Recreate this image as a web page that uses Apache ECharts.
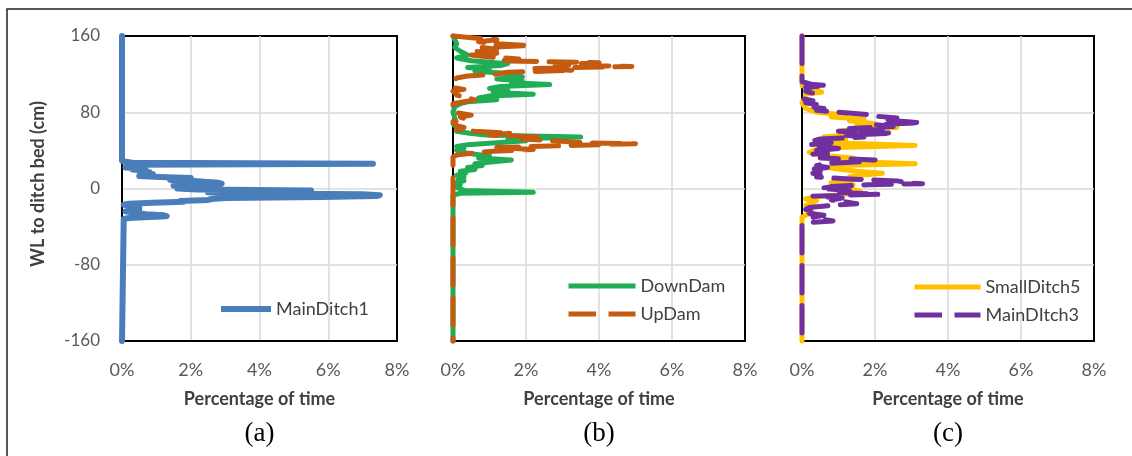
<!DOCTYPE html>
<html>
<head>
<meta charset="utf-8">
<script src="https://cdn.jsdelivr.net/npm/echarts@6/dist/echarts.min.js"></script>
<style>
  html, body { margin: 0; padding: 0; background: #fff; }
  #chart { width: 1132px; height: 456px; }
</style>
</head>
<body>
<div id="chart"></div>
<script>
// Water level relative to ditch bed (cm) vs. share of time at that level (%)
const wlTicks = [-160, -80, 0, 80, 160];
const pctTicks = [0, 2, 4, 6, 8];
const panelLabels = ['(a)', '(b)', '(c)'];

// (a) MainDitch1
const mainDitch1Level = [160, 29, 28, 27, 26, 25, 24, 23, 22, 21, 20, 19, 18, 17, 16, 15, 14, 13, 12, 11, 10, 9, 8, 7, 6, 5, 4, 3, 2, 1, 0, -1, -2, -3, -4, -5, -6, -7, -8, -9, -10, -11, -12, -13, -14, -15, -16, -17, -18, -19, -20, -21, -22, -23, -24, -25, -26, -27, -28, -29, -30, -31, -32, -33, -160];
const mainDitch1Pct   = [0, 0, 0.1, 0.3, 7.3, 0.4, 0.2, 0.3, 0.1, 0.6, 0.3, 0.7, 0.5, 0.8, 0.6, 0.9, 0.7, 0.5, 1.1, 2.0, 1.9, 1.4, 2.1, 2.4, 2.8, 2.9, 1.8, 1.5, 1.9, 1.7, 1.6, 2.2, 5.5, 5.2, 2.5, 3.2, 7.0, 7.5, 7.4, 5.8, 3.0, 2.6, 2.5, 1.7, 1.8, 0.9, 0.2, 0.05, 0.1, 0.4, 0.5, 0.2, 0.5, 0.4, 0.1, 0.3, 0.5, 0.7, 1.2, 1.3, 0.8, 0.2, 0.05, 0, 0];

// (b) DownDam
const downDamLevel = [160, 156, 152, 148, 144, 140, 137, 134, 131, 129, 127, 125, 123, 121, 119, 117, 115, 113, 111, 109, 107, 105, 103, 101, 99, 97, 95, 93, 91, 89, 86, 80, 74, 68, 64, 62, 60, 58, 56, 54, 52, 50, 48, 46, 44, 42, 40, 38, 36, 34, 32, 30, 28, 26, 24, 22, 20, 18, 16, 14, 12, 10, 8, 6, 4, 2, 0, -2, -4, -5, -7, -160];
const downDamPct   = [0, 0.05, 0.1, 0.05, 0.2, 0.4, 0.1, 0.5, 1.5, 1.3, 0.4, 1.0, 0.6, 1.4, 1.7, 1.9, 1.2, 1.9, 1.6, 2.65, 1.3, 1.0, 1.5, 1.1, 2.2, 1.0, 0.7, 1.2, 0.4, 0.2, 0.05, 0, 0.05, 0, 0.1, 0.25, 0.1, 0.45, 0.9, 3.5, 1.5, 2.0, 1.2, 0.4, 0.1, 0.3, 0.1, 0.2, 0.6, 1.0, 0.7, 1.6, 1.1, 0.6, 0.8, 0.4, 0.6, 0.2, 0.35, 0.1, 0.3, 0.15, 0.3, 0.1, 0.2, 0.05, 0.1, 0.3, 2.2, 0.2, 0, 0];

// (b) UpDam
const upDamLevel = [160, 158, 156, 154, 152, 150, 148, 146, 144, 142, 140, 138, 136, 134, 132, 130, 128, 126, 124, 122, 120, 118, 116, 112, 106, 104, 102, 98, 93, 91, 89, 80, 77, 75, 73, 70, 66, 64, 62, 60, 58, 56, 54, 52, 50, 48, 47, 45, 43, 41, 39, 37, 35, 33, -160];
const upDamPct   = [0, 0.6, 1.2, 0.7, 1.1, 2.1, 0.8, 1.2, 0.6, 1.2, 0.5, 1.0, 1.8, 1.3, 4.0, 2.8, 4.9, 2.2, 3.3, 1.5, 1.2, 0.4, 0.1, 0, 0, 0.3, 0, 0.1, 0.6, 0.3, 0, 0, 0.5, 0.2, 0.35, 0, 0.1, 0.3, 0.1, 0.6, 1.6, 1.0, 2.4, 1.9, 2.8, 3.6, 5.0, 3.0, 1.2, 2.2, 1.1, 0.5, 0.1, 0, 0];

// (c) SmallDitch5
const smallDitch5Level = [160, 108, 104, 101, 99, 96, 90, 84, 80, 77, 75, 73, 71, 68, 66, 64, 62, 60, 57, 54, 51, 48, 45, 43, 41, 38, 35, 32, 29, 26, 24, 22, 20, 18, 16, 14, 12, 10, 8, 6, 4, 2, 0, -3, -5, -7, -9, -11, -13, -15, -18, -22, -26, -28, -30, -160];
const smallDitch5Pct   = [0, 0, 0.3, 0.54, 0.1, 0.1, 0, 0.1, 0.4, 1.2, 0.8, 1.7, 1.3, 2.0, 1.5, 2.6, 1.4, 1.0, 1.5, 0.6, 1.2, 0.8, 3.1, 1.0, 0.4, 0.2, 0.5, 1.4, 0.8, 3.1, 1.0, 0.7, 1.1, 1.5, 2.2, 1.6, 1.3, 1.5, 1.2, 0.8, 1.4, 1.0, 1.3, 1.6, 1.4, 0.9, 0.3, 0.1, 0.4, 0.3, 0.1, 0.2, 0.3, 0.1, 0, 0];

// (c) MainDItch3
const mainDitch3Level = [160, 112, 109, 108, 106, 104, 102, 100, 98, 96, 94, 92, 90, 88, 86, 84, 82, 80, 78, 76, 74, 72, 70, 69, 67, 65, 63, 61, 60, 58, 56, 54, 52, 50, 48, 46, 44, 42, 40, 38, 36, 34, 32, 30, 28, 26, 24, 22, 20, 18, 16, 14, 12, 10, 8, 6, 5, 4, 2, 0, -2, -4, -6, -8, -10, -12, -14, -16, -18, -20, -22, -24, -26, -28, -30, -32, -34, -36, -38, -160];
const mainDitch3Pct   = [0, 0, 0.3, 0.68, 0.1, 0.2, 0.1, 0.3, 0.1, 0.15, 0.05, 0.3, 0.1, 0.4, 0.2, 0.6, 0.4, 1.0, 1.7, 2.0, 2.6, 2.2, 2.9, 3.27, 2.0, 2.5, 1.3, 2.2, 1.0, 2.5, 1.2, 1.7, 0.5, 0.3, 0.8, 0.2, 0.5, 1.0, 0.4, 0.7, 0.3, 0.7, 0.5, 2.0, 1.6, 0.6, 0.4, 0.7, 0.2, 0.5, 0.3, 0.5, 0.4, 1.3, 2.6, 2.9, 3.3, 1.8, 0.8, 0.5, 1.3, 0.9, 2.1, 0.3, 1.1, 0.8, 1.2, 1.5, 0.7, 0.2, 0.1, 0.4, 0.2, 0.6, 0.3, 0.5, 0.85, 0.1, 0, 0];

const pairs = (pct, lvl) => pct.map((p, i) => [p, lvl[i]]);

const uiFont = 'Lato';
const labelGrey = '#595959';
const textDark = '#404040';

const grids = [
  { left: 122, top: 36, width: 275, height: 305 },
  { left: 453, top: 36, width: 292, height: 305 },
  { left: 802, top: 36, width: 292, height: 305 }
];

const styles = {
  MainDitch1:  { color: '#4a7ebb', width: 6, dashed: false },
  DownDam:     { color: '#1fae55', width: 5, dashed: false },
  UpDam:       { color: '#c55a11', width: 5, dashed: true },
  SmallDitch5: { color: '#ffc000', width: 5, dashed: false },
  MainDItch3:  { color: '#7030a0', width: 5, dashed: true }
};
const dashOf = s => (s.dashed ? [5.5 * s.width, 2.5 * s.width] : 'solid');

function xAxisFor(i) {
  return {
    type: 'value', gridIndex: i, min: pctTicks[0], max: pctTicks[pctTicks.length - 1], interval: 2,
    name: 'Percentage of time', nameLocation: 'middle', nameGap: 49,
    nameTextStyle: { fontFamily: uiFont, fontWeight: 'bold', fontSize: 18, color: textDark },
    axisLine: { show: true, onZero: false, lineStyle: { color: '#000', width: 2 } },
    axisTick: { show: false },
    axisLabel: { formatter: '{value}%', fontFamily: uiFont, fontSize: 18, color: labelGrey, margin: 20 },
    splitLine: { show: true, showMinLine: false, showMaxLine: false, lineStyle: { color: '#d9d9d9', width: 1.5 } }
  };
}

function yAxisFor(i) {
  return {
    type: 'value', gridIndex: i, min: wlTicks[0], max: wlTicks[wlTicks.length - 1], interval: 80,
    axisLine: { show: true, onZero: false, lineStyle: { color: '#000', width: 2 } },
    axisTick: { show: false },
    axisLabel: { show: i === 0, fontFamily: uiFont, fontSize: 17, color: labelGrey, margin: 22 },
    splitLine: { show: true, showMinLine: false, showMaxLine: false, lineStyle: { color: '#d9d9d9', width: 1.5 } }
  };
}

function lineSeries(name, idx, data) {
  const s = styles[name];
  return {
    name: name, type: 'line', xAxisIndex: idx, yAxisIndex: idx,
    data: data, symbol: 'none', clip: false, animation: false,
    itemStyle: { color: s.color },
    lineStyle: { color: s.color, width: s.width, cap: 'round', join: 'round', type: dashOf(s) }
  };
}

const legendText = { fontFamily: uiFont, fontSize: 18, color: textDark };
const legendItem = name => ({
  name: name,
  lineStyle: { color: styles[name].color, width: styles[name].width, type: dashOf(styles[name]), cap: 'butt' }
});
function legendFor(names, left, top, width) {
  return {
    data: names.map(legendItem), left: left, top: top, orient: 'vertical', padding: 0,
    itemWidth: width, itemHeight: 18, itemGap: 10, textStyle: legendText,
    itemStyle: { opacity: 0 }
  };
}

const option = {
  backgroundColor: '#fff',
  animation: false,
  grid: grids.map(g => Object.assign({ show: true, borderColor: '#000', borderWidth: 2, backgroundColor: 'transparent' }, g)),
  xAxis: [0, 1, 2].map(xAxisFor),
  yAxis: [0, 1, 2].map(yAxisFor),
  title: panelLabels.map((t, i) => ({
    text: t, left: grids[i].left + grids[i].width / 2, top: 420, textAlign: 'center', padding: 0,
    textStyle: { fontFamily: 'Liberation Serif', fontWeight: 'normal', fontSize: 27, color: '#000' }
  })),
  legend: [
    legendFor(['MainDitch1'], 218, 300, 50),
    legendFor(['DownDam', 'UpDam'], 566, 277, 67),
    legendFor(['SmallDitch5', 'MainDItch3'], 912, 278, 66)
  ],
  graphic: [
    { type: 'rect', shape: { x: 7, y: 9, width: 1140, height: 470 }, style: { fill: 'none', stroke: '#222', lineWidth: 1.5 }, silent: true },
    { type: 'text', x: 38, y: 184, rotation: Math.PI / 2,
      style: { text: 'WL to ditch bed (cm)', fontFamily: uiFont, fontWeight: 'bold', fontSize: 18, fill: textDark, align: 'center', verticalAlign: 'middle' } }
  ],
  series: [
    lineSeries('MainDitch1', 0, pairs(mainDitch1Pct, mainDitch1Level)),
    lineSeries('DownDam', 1, pairs(downDamPct, downDamLevel)),
    lineSeries('UpDam', 1, pairs(upDamPct, upDamLevel)),
    lineSeries('SmallDitch5', 2, pairs(smallDitch5Pct, smallDitch5Level)),
    lineSeries('MainDItch3', 2, pairs(mainDitch3Pct, mainDitch3Level))
  ]
};

const chart = echarts.init(document.getElementById('chart'), null, { renderer: 'canvas', width: 1132, height: 456 });
chart.setOption(option);
</script>
</body>
</html>
